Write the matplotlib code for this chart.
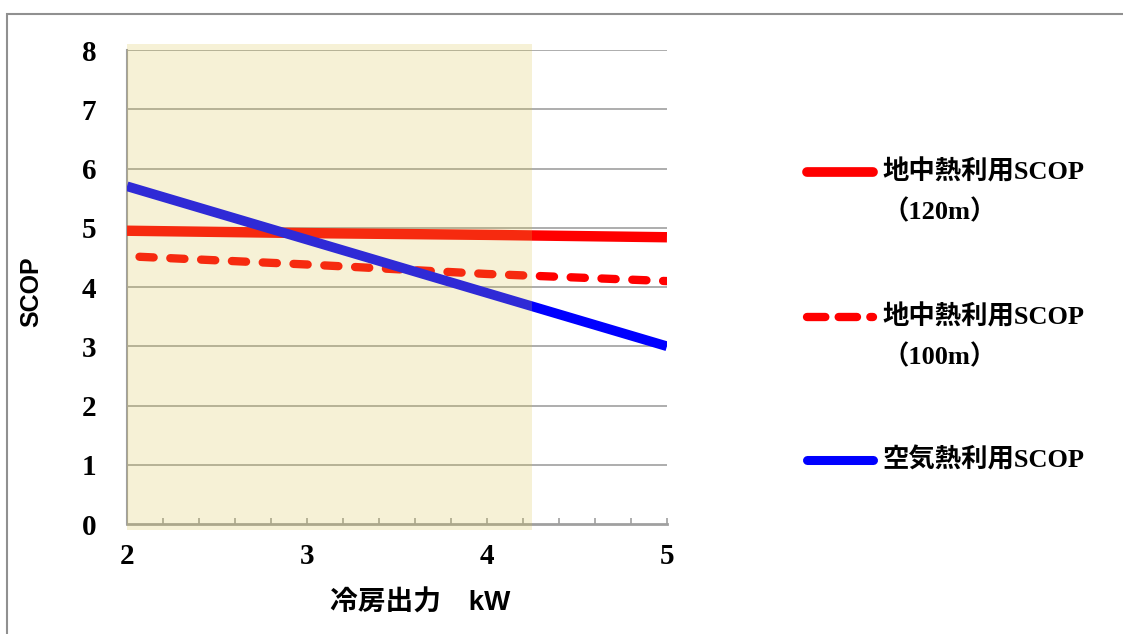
import matplotlib
matplotlib.use('Agg')
from matplotlib import pyplot as plt
from matplotlib.lines import Line2D
from matplotlib.patches import Rectangle
from matplotlib.ticker import MultipleLocator

# values
power_kw = [2, 3, 4, 5]
scop_ground_120 = [4.95, 4.91, 4.88, 4.84]
scop_ground_100 = [4.52, 4.38, 4.22, 4.10]
scop_air = [5.70, 4.80, 3.90, 3.00]
shade_range = (2.0, 4.25)

legend_labels = ['地中熱利用SCOP', '地中熱利用SCOP', '空気熱利用SCOP']
legend_sub = ['（120m）', '（100m）', '']
x_title = '冷房出力　kW'
y_title = 'SCOP'

serif_cjk = ['Liberation Serif', 'Noto Sans CJK JP']
sans_cjk = ['Liberation Sans', 'Noto Sans CJK JP']

fig = plt.figure(figsize=(11.23, 6.34), dpi=100)
ax = fig.add_axes([0.1131, 0.1735, 0.4808, 0.7476])

ax.set_xlim(2, 5)
ax.set_ylim(0, 8)

# grid
for yv in range(1, 9):
    ax.axhline(yv, color='#a0a0a0', linewidth=1.2, zorder=1)

ax.plot(power_kw, scop_ground_120, color='#ff0000', linewidth=7.5,
        solid_capstyle='butt', zorder=3)
ax.plot(power_kw, scop_ground_100, color='#ff0000', linewidth=6,
        linestyle=(2.2, (1.7, 2.0)), dash_capstyle='round', zorder=3)
ax.plot(power_kw, scop_air, color='#0000ff', linewidth=7,
        solid_capstyle='butt', zorder=3)

# shaded band drawn on top (tints the lines like the original)
ax.axvspan(shade_range[0], shade_range[1], ymin=-0.012, ymax=1.013,
           facecolor=(215 / 255, 195 / 255, 70 / 255), alpha=0.22,
           edgecolor='none', zorder=4, clip_on=False)

for side in ['top', 'right']:
    ax.spines[side].set_visible(False)
ax.spines['left'].set_color('#a0a0a0')
ax.spines['left'].set_linewidth(1.5)
ax.spines['bottom'].set_color('#a0a0a0')
ax.spines['bottom'].set_linewidth(2)

ax.xaxis.set_major_locator(MultipleLocator(1))
ax.xaxis.set_minor_locator(MultipleLocator(0.2))
ax.yaxis.set_major_locator(MultipleLocator(1))
ax.tick_params(axis='x', which='both', direction='in', length=4, width=1.2,
               color='#a0a0a0', pad=14)
ax.tick_params(axis='y', which='both', length=0, pad=22)
for lab in ax.get_xticklabels() + ax.get_yticklabels():
    lab.set_fontfamily('Liberation Serif')
    lab.set_fontweight('bold')
    lab.set_fontsize(21)

ax.set_ylabel(y_title, fontfamily='Liberation Sans', fontweight='bold', fontsize=18)
ax.yaxis.set_label_coords(-0.155, 0.49)
ax.set_xlabel(x_title, fontfamily=sans_cjk, fontweight='bold', fontsize=20)
ax.xaxis.set_label_coords(0.543, -0.14)

# legend drawn at the right side
legend_y = [0.7287, 0.5, 0.2744]
sub_y = [0.6656, 0.4369, None]
styles = [dict(color='#ff0000', linewidth=7, solid_capstyle='round'),
          dict(color='#ff0000', linewidth=6, linestyle=(0, (2.2, 1.6)), dash_capstyle='round'),
          dict(color='#0000ff', linewidth=6.5, solid_capstyle='round')]
for lab, sub, ly, sy, st in zip(legend_labels, legend_sub, legend_y, sub_y, styles):
    fig.add_artist(Line2D([0.7185, 0.7775], [ly, ly], transform=fig.transFigure, **st))
    fig.text(0.786, ly, lab, ha='left', va='center', fontsize=19,
             fontfamily=serif_cjk, fontweight='bold')
    if sy is not None:
        fig.text(0.786, sy, sub, ha='left', va='center', fontsize=19,
                 fontfamily=serif_cjk, fontweight='bold')

# outer frame (cut by the image edge on the right and bottom)
fig.add_artist(Rectangle((0.0062, -0.1), 1.2, 1.078, transform=fig.transFigure,
                         fill=False, edgecolor='#909090', linewidth=1.5))

fig.savefig('out.png', dpi=100)
plt.close(fig)
